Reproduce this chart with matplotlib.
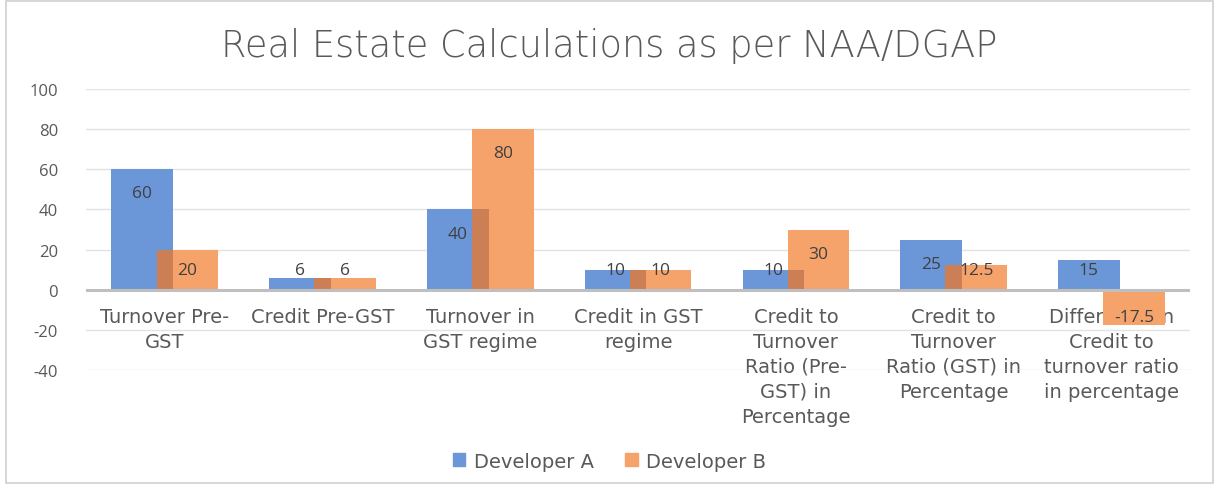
import matplotlib
matplotlib.use('Agg')
from matplotlib import pyplot as plt
from matplotlib.patches import Rectangle
import numpy as np

categories = ['Turnover Pre-\nGST', 'Credit Pre-GST', 'Turnover in\nGST regime', 'Credit in GST\nregime',
              'Credit to\nTurnover\nRatio (Pre-\nGST) in\nPercentage',
              'Credit to\nTurnover\nRatio (GST) in\nPercentage',
              'Difference in\nCredit to\nturnover ratio\nin percentage']
dev_a = [60, 6, 40, 10, 10, 25, 15]
dev_b = [20, 6, 80, 10, 30, 12.5, -17.5]
yticks = [-40, -20, 0, 20, 40, 60, 80, 100]

plt.rcParams['font.family'] = ['Open Sans', 'DejaVu Sans']
plt.rcParams['axes.unicode_minus'] = False
wide = ['DejaVu Sans']
grey = '#595959'
blue = '#6b97d8'
orange = '#f5a36b'
mix = '#cc7f55'

fig = plt.figure(figsize=(12.19, 4.89), dpi=100)
ax = fig.add_axes([0.0705, 0.241, 0.906, 0.575])

x = np.arange(len(categories))
w = 0.39
shift = 0.143
ax.bar(x - shift, dev_a, w, color=blue, zorder=2)
ax.bar(x + shift, dev_b, w, color=orange, zorder=2)
# overlap of the two bars drawn darker
ov = []
for a, b in zip(dev_a, dev_b):
    if a * b > 0:
        ov.append(min(a, b) if a > 0 else max(a, b))
    else:
        ov.append(0)
ov_w = w - 2 * shift
ax.bar(x, ov, ov_w, color=mix, zorder=2)

def label_y(v):
    if v > 0:
        return max(v - 12, 10)
    return v + 4

for i in range(len(categories)):
    ax.text(x[i] - shift, label_y(dev_a[i]), f'{dev_a[i]:g}', ha='center', va='center',
            fontsize=12.5, color='#404040', zorder=3)
    ax.text(x[i] + shift, label_y(dev_b[i]), f'{dev_b[i]:g}', ha='center', va='center',
            fontsize=12.5, color='#404040', zorder=3)

for i, c in enumerate(categories):
    ax.text(x[i], -8.5, c, ha='center', va='top', fontsize=14, color=grey,
            linespacing=1.4, zorder=1, family=wide)

ax.set_xlim(-0.5, len(categories) - 0.5)
ax.set_ylim(-40, 100)
ax.set_yticks(yticks)
ax.set_xticks([])
ax.tick_params(axis='y', length=0, labelsize=12, labelcolor=grey, pad=20)
ax.grid(axis='y', color='#e3e3e3', linewidth=1, zorder=0)
ax.axhline(0, color='#bfbfbf', linewidth=2.2, zorder=2.5)
for s in ax.spines.values():
    s.set_visible(False)

fig.text(0.5, 0.906, 'Real Estate Calculations as per NAA/DGAP', ha='center', va='center',
         fontsize=26.5, color=grey, fontweight='light', family=wide)

h1 = Rectangle((0, 0), 1, 1, color=blue)
h2 = Rectangle((0, 0), 1, 1, color=orange)
fig.legend([h1, h2], ['Developer A', 'Developer B'], loc='center', bbox_to_anchor=(0.5, 0.055),
           ncol=2, frameon=False, prop={'family': wide, 'size': 14}, labelcolor=grey,
           handlelength=0.65, handleheight=0.65, columnspacing=1.6, handletextpad=0.45)

fig.patches.append(Rectangle((0.005, 0.01), 0.99, 0.985, transform=fig.transFigure,
                             fill=False, edgecolor='#d0d0d0', linewidth=1.2))

fig.savefig('out.png', dpi=100)
